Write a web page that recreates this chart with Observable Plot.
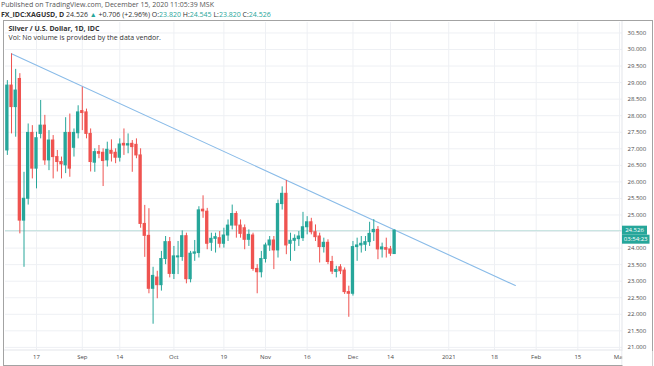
<!DOCTYPE html>
<html><head><meta charset="utf-8">
<script src="https://cdn.jsdelivr.net/npm/d3@7"></script>
<script src="https://cdn.jsdelivr.net/npm/@observablehq/plot@0.6"></script>
<style>
body{margin:0;width:654px;height:366px;overflow:hidden;background:#fff;font-family:"Open Sans",sans-serif;position:relative}
#h1{position:absolute;left:1px;top:0px;font-size:7px;color:#555;line-height:9px;white-space:nowrap}
#h2{position:absolute;left:1px;top:10px;font-size:7px;color:#333;line-height:9px;white-space:nowrap}
#h2 .t{color:#26a69a}
#box{position:absolute;left:3px;top:20px;width:648px;height:344px;border:1px solid #a3a3a3}
#box svg{display:block}
</style></head><body>
<div id="h1">Published on TradingView.com, December 15, 2020 11:05:39 MSK</div>
<div id="h2"><b>FX_IDC:XAGUSD, D</b> 24.526 <span class="t">▲</span> +0.706 (+2.96%) O:<span class="t">23.820</span> H:<span class="t">24.545</span> L:<span class="t">23.820</span> C:<span class="t">24.526</span></div>
<div id="box"></div>
<script>
const dates = [
"2020-08-06","2020-08-07","2020-08-10","2020-08-11","2020-08-12","2020-08-13","2020-08-14","2020-08-17","2020-08-18","2020-08-19","2020-08-20","2020-08-21","2020-08-24","2020-08-25","2020-08-26","2020-08-27","2020-08-28","2020-08-31",
"2020-09-01","2020-09-02","2020-09-03","2020-09-04","2020-09-07","2020-09-08","2020-09-09","2020-09-10","2020-09-11","2020-09-14","2020-09-15","2020-09-16","2020-09-17","2020-09-18","2020-09-21","2020-09-22","2020-09-23","2020-09-24","2020-09-25","2020-09-28","2020-09-29","2020-09-30",
"2020-10-01","2020-10-02","2020-10-05","2020-10-06","2020-10-07","2020-10-08","2020-10-09","2020-10-12","2020-10-13","2020-10-14","2020-10-15","2020-10-16","2020-10-19","2020-10-20","2020-10-21","2020-10-22","2020-10-23","2020-10-26","2020-10-27","2020-10-28","2020-10-29","2020-10-30",
"2020-11-02","2020-11-03","2020-11-04","2020-11-05","2020-11-06","2020-11-09","2020-11-10","2020-11-11","2020-11-12","2020-11-13","2020-11-16","2020-11-17","2020-11-18","2020-11-19","2020-11-20","2020-11-23","2020-11-24","2020-11-25","2020-11-26","2020-11-27","2020-11-30",
"2020-12-01","2020-12-02","2020-12-03","2020-12-04","2020-12-07","2020-12-08","2020-12-09","2020-12-10","2020-12-11","2020-12-14","2020-12-15"];
const open = [26.95,28.91,28.26,29.11,24.83,25.49,27.48,26.40,27.45,27.70,26.65,27.25,26.75,26.60,26.50,27.48,27.03,27.47,
28.14,28.10,27.45,26.58,26.90,26.88,26.65,26.94,26.88,26.73,27.15,27.10,27.15,27.12,26.80,24.73,24.37,22.77,23.11,22.88,23.67,24.18,
23.22,23.72,23.73,24.36,23.06,23.83,23.85,25.16,25.10,24.16,24.28,24.30,24.13,24.38,24.68,25.03,24.68,24.60,24.25,24.38,23.37,23.27,
23.67,24.08,24.23,23.93,25.33,25.64,24.13,24.22,24.27,24.30,24.63,24.78,24.48,24.35,24.03,24.16,23.58,23.28,23.42,23.32,22.67,
22.62,24.03,24.08,24.10,24.18,24.48,24.55,23.96,24.00,23.96,23.82];
const high = [29.06,29.87,29.40,29.27,26.29,27.75,27.70,27.50,28.46,28.01,27.55,27.40,26.95,26.75,27.94,28.05,27.60,28.30,
28.86,28.20,27.60,27.00,27.10,27.00,27.20,27.27,27.00,27.30,27.60,27.45,27.25,27.30,27.00,25.29,25.19,23.42,23.30,23.90,24.35,24.32,
24.05,24.20,24.52,24.45,23.90,24.23,25.25,25.58,25.20,24.45,24.45,24.50,24.60,24.85,25.30,25.10,24.85,24.70,24.55,24.45,23.50,23.90,
24.15,24.35,24.35,25.45,25.85,26.04,24.45,24.40,24.50,25.08,24.95,24.90,24.70,24.45,24.30,24.25,23.75,23.45,23.50,23.40,22.85,
24.20,24.30,24.35,24.35,24.78,24.86,24.65,24.15,24.30,24.05,24.545];
const low = [26.80,27.45,27.35,24.43,23.42,25.30,26.09,25.79,27.30,26.50,26.34,26.09,26.30,26.09,26.25,26.14,26.75,27.30,
27.55,27.30,26.30,26.29,26.70,25.86,26.45,26.60,26.55,26.60,26.80,26.85,26.29,26.70,24.60,23.72,22.62,21.70,22.47,22.70,23.50,23.10,
23.05,23.20,23.60,22.92,22.95,23.60,23.70,24.90,23.95,23.90,23.85,24.00,24.00,24.20,24.55,24.30,24.30,23.95,24.05,23.30,22.62,23.10,
23.55,23.90,23.35,23.70,25.15,23.80,23.60,23.90,24.05,24.20,24.40,24.40,24.20,23.55,23.85,23.50,23.20,23.10,23.20,22.60,21.91,
22.55,23.60,23.85,23.90,24.05,24.20,23.65,23.70,23.70,23.75,23.82];
const close = [28.91,28.26,28.76,24.83,25.49,27.48,26.40,27.32,27.70,26.65,27.25,26.75,26.60,26.53,27.48,26.40,27.48,28.10,
28.08,27.45,26.60,26.90,26.85,26.63,26.97,26.85,26.73,27.13,27.10,27.14,27.05,26.80,24.73,24.37,22.77,23.16,22.88,23.67,24.18,23.22,
23.75,23.75,24.36,23.06,23.83,23.87,25.14,25.11,24.13,24.28,24.33,24.13,24.38,24.68,25.03,24.68,24.43,24.25,24.40,23.37,23.27,23.67,
24.08,24.23,23.93,25.33,25.64,24.08,24.22,24.28,24.35,24.63,24.78,24.48,24.33,24.03,24.16,23.58,23.29,23.34,23.30,22.67,22.62,
24.03,24.08,24.13,24.18,24.43,24.55,23.96,24.02,23.95,23.83,24.526];

const trendDates = ["2020-08-07","2021-01-25"];
const trendValues = [29.87, 22.87];

const xTickDates = ["2020-08-17","2020-09-01","2020-09-14","2020-10-01","2020-10-19","2020-11-02","2020-11-16","2020-12-01","2020-12-14","2021-01-01","2021-01-18","2021-02-01","2021-02-15","2021-03-01"];
const xTickLabels = ["17","Sep","14","Oct","19","Nov","16","Dec","14","2021","18","Feb","15","Mar"];
const yTicks = [21,21.5,22,22.5,23,23.5,24,24.5,25,25.5,26,26.5,27,27.5,28,28.5,29,29.5,30,30.5];
const lastClose = 24.526;
const countdown = "03:54:23";
const legend1 = "Silver / U.S. Dollar, 1D, IDC";
const legend2 = "Vol: No volume is provided by the data vendor.";

const G = "#26a69a", R = "#ef5350";
// trading-day index (weekdays) relative to 2020-08-17
const base = Date.UTC(2020,7,17);
function tIdx(s){
  const days = Math.round((Date.parse(s) - base)/864e5);
  const w = Math.floor(days/7), r = days - w*7;
  return w*5 + Math.min(r,5);
}
const rows = dates.map((d,k)=>({i:tIdx(d), o:open[k], h:high[k], l:low[k], c:close[k], col: close[k]>=open[k]?G:R}));
const trend = trendDates.map((d,k)=>({i:tIdx(d), v:trendValues[k]}));
const xTicks = xTickDates.map(tIdx);
const labelMap = new Map(xTicks.map((t,k)=>[t,xTickLabels[k]]));
// the price tag hides the label nearest the last price
const yLabelTicks = yTicks.filter(t => Math.abs(t - lastClose) > 0.2);

const W = 648, H = 344;
const plot = Plot.plot({
  width: W, height: H,
  marginLeft: 1, marginRight: 30, marginTop: 1, marginBottom: 15,
  style: {fontFamily: "Open Sans, sans-serif", fontSize: "6px", color: "#4a4a4a", background: "#fff", overflow: "visible"},
  x: {type: "linear", domain: [-7.445, 140.73]},
  y: {domain: [20.906, 30.816]},
  marks: [
    Plot.gridX(xTicks, {stroke: "#eef0f4", strokeOpacity: 1}),
    Plot.gridY(yTicks, {stroke: "#eef0f4", strokeOpacity: 1}),
    Plot.ruleY([lastClose], {stroke: "#bfe0dc", strokeWidth: 1}),
    Plot.line(trend, {x: "i", y: "v", stroke: "#89bbe8", strokeWidth: 1.1}),
    Plot.ruleX(rows, {x: "i", y1: "l", y2: "h", stroke: "col", strokeWidth: 1, clip: true}),
    Plot.rect(rows, {x1: r => r.i - 0.4, x2: r => r.i + 0.4, y1: "o", y2: "c", fill: "col", insetTop: -0.5, insetBottom: -0.5, clip: true}),
    Plot.axisY(yLabelTicks, {anchor: "right", tickSize: 0, tickPadding: 5, tickFormat: d3.format(".3f"), label: null, fill: "#4a4a4a"}),
    Plot.axisX(xTicks, {anchor: "bottom", tickSize: 0, tickPadding: 4, tickFormat: d => labelMap.get(d), label: null, fill: "#4a4a4a"}),
    Plot.text([legend1], {frameAnchor: "top-left", dx: 3, dy: 4, fontWeight: "bold", fontSize: 7, fill: "#333"}),
    Plot.text([legend2], {frameAnchor: "top-left", dx: 3, dy: 13, fontSize: 7, fill: "#333"})
  ]
});
document.getElementById("box").appendChild(plot);

const svg = d3.select(plot);
const xs = plot.scale("x"), ys = plot.scale("y");
const right = xs.range[1], bottom = ys.range[0];
// separators
svg.append("line").attr("x1", right).attr("x2", right).attr("y1", 0).attr("y2", H).attr("stroke", "#e3e5ea");
svg.append("line").attr("x1", 0).attr("x2", right).attr("y1", bottom).attr("y2", bottom).attr("stroke", "#e3e5ea");
// clip time-axis text at price-scale edge
svg.append("rect").attr("x", right + 0.5).attr("y", bottom + 1).attr("width", W - right).attr("height", H - bottom).attr("fill", "#fff");
// price tag + countdown
const yp = ys.apply(lastClose);
const g = svg.append("g").attr("font-family", "Open Sans, sans-serif").attr("font-size", 6);
g.append("rect").attr("x", right).attr("y", yp - 4.5).attr("width", 25).attr("height", 9).attr("fill", G);
g.append("text").attr("x", right + 12.5).attr("y", yp + 2).attr("text-anchor", "middle").attr("fill", "#fff").text(d3.format(".3f")(lastClose));
g.append("rect").attr("x", right).attr("y", yp + 4.5).attr("width", 27.5).attr("height", 9).attr("fill", G);
g.append("text").attr("x", right + 13.7).attr("y", yp + 11).attr("text-anchor", "middle").attr("fill", "#fff").text(countdown);
</script>
</body></html>
